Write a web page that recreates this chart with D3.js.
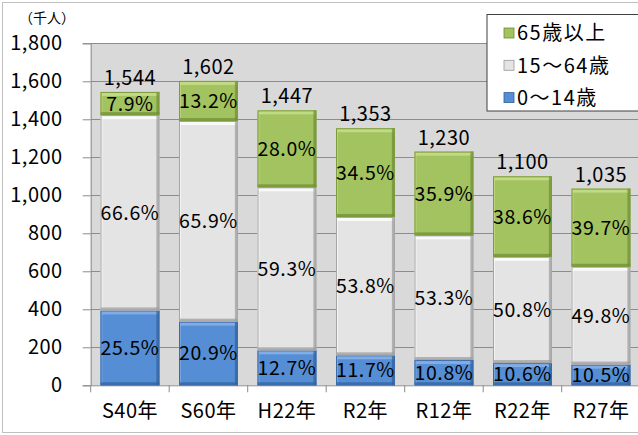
<!DOCTYPE html>
<html>
<head>
<meta charset="utf-8">
<script src="https://cdn.jsdelivr.net/npm/d3@7"></script>
<style>
    body { margin: 0; background: #fff; }
    svg { display: block; }
    text { font-family: "Noto Sans CJK JP", "Noto Sans", sans-serif; fill: #000; }
</style>
</head>
<body>
<svg id="chart"></svg>
<script>
// categories (years) and population by age group, thousands
const categories = ["S40年", "S60年", "H22年", "R2年", "R12年", "R22年", "R27年"];
const young = [394, 335, 184, 158, 133, 117, 109];       // 0～14歳
const working = [1028, 1056, 858, 728, 656, 559, 515];   // 15～64歳
const elderly = [122, 211, 405, 467, 441, 424, 411];     // 65歳以上
const totals = [1544, 1602, 1447, 1353, 1230, 1100, 1035];
const youngPct = ["25.5%", "20.9%", "12.7%", "11.7%", "10.8%", "10.6%", "10.5%"];
const workingPct = ["66.6%", "65.9%", "59.3%", "53.8%", "53.3%", "50.8%", "49.8%"];
const elderlyPct = ["7.9%", "13.2%", "28.0%", "34.5%", "35.9%", "38.6%", "39.7%"];
const yTicks = [0, 200, 400, 600, 800, 1000, 1200, 1400, 1600, 1800];

const width = 638;
const height = 435;

const series = [
    { key: "young", name: "0～14歳", values: young, pct: youngPct, fill: "#558ed5", light: "#8db4e8", dark: "#2f5f99", stroke: "#3a6aa8" },
    { key: "working", name: "15～64歳", values: working, pct: workingPct, fill: "#e4e4e4", light: "#ffffff", dark: "#9a9a9a", stroke: "#a6a6a6" },
    { key: "elderly", name: "65歳以上", values: elderly, pct: elderlyPct, fill: "#a2c35f", light: "#c9e08e", dark: "#6f8c34", stroke: "#7c9a3e" }
];

const svg = d3.select("#chart")
    .attr("width", width)
    .attr("height", height);

// outer chart border
svg.append("rect")
    .attr("x", 2.5)
    .attr("y", 2.5)
    .attr("width", width + 10)
    .attr("height", 430)
    .attr("fill", "#fff")
    .attr("stroke", "#bfbfbf");

const plot = { left: 90.7, right: 640.2, top: 43.3, bottom: 385.3 };

const x = d3.scaleBand()
    .domain(categories)
    .range([plot.left, plot.right])
    .paddingInner(0.25)
    .paddingOuter(0.125);

const y = d3.scaleLinear()
    .domain([0, 1800])
    .range([plot.bottom, plot.top]);

// plot background
svg.append("rect")
    .attr("x", plot.left)
    .attr("y", plot.top)
    .attr("width", plot.right - plot.left)
    .attr("height", plot.bottom - plot.top)
    .attr("fill", "#d9d9d9");

// y axis with gridlines
const yAxis = svg.append("g")
    .attr("transform", `translate(${plot.left},0)`)
    .call(d3.axisLeft(y)
        .tickValues(yTicks)
        .tickSize(8)
        .tickPadding(20)
        .tickFormat(d3.format(",")));

yAxis.select(".domain").attr("stroke", "#8c8c8c");
yAxis.selectAll(".tick line").attr("stroke", "#8c8c8c");
yAxis.selectAll(".tick text")
    .style("font-size", "20px")
    .style("letter-spacing", "0.5px")
    .attr("fill", "#000");

svg.append("g")
    .selectAll("line")
    .data(yTicks.filter(d => d > 0))
    .enter().append("line")
    .attr("x1", plot.left)
    .attr("x2", plot.right)
    .attr("y1", d => Math.round(y(d)) + 0.5)
    .attr("y2", d => Math.round(y(d)) + 0.5)
    .attr("stroke", "#8c8c8c");

// x axis
const xAxis = svg.append("g")
    .attr("transform", `translate(0,${plot.bottom})`)
    .call(d3.axisBottom(x).tickSize(0).tickPadding(19));

xAxis.select(".domain").attr("stroke", "#8c8c8c");
xAxis.selectAll(".tick text")
    .style("font-size", "20px")
    .style("letter-spacing", "0.5px")
    .attr("fill", "#000");

// category boundary ticks
svg.append("g")
    .selectAll("line")
    .data(categories)
    .enter().append("line")
    .attr("x1", d => x(d) - x.step() * x.paddingInner() / 2)
    .attr("x2", d => x(d) - x.step() * x.paddingInner() / 2)
    .attr("y1", plot.bottom)
    .attr("y2", plot.bottom + 7)
    .attr("stroke", "#8c8c8c");

// unit label
svg.append("text")
    .attr("x", 47)
    .attr("y", 23)
    .attr("text-anchor", "middle")
    .style("font-size", "14px")
    .text("（千人）");

// stacked bars
const stacked = categories.map((c, i) => {
    let base = 0;
    return series.map(s => {
        const seg = { cat: c, s: s, y0: base, y1: base + s.values[i], label: s.pct[i] };
        base += s.values[i];
        return seg;
    });
});

const bars = svg.append("g");
const bw = x.bandwidth();

stacked.forEach(segs => {
    segs.forEach(seg => {
        const g = bars.append("g");
        const bx = x(seg.cat);
        const top = y(seg.y1);
        const h = y(seg.y0) - y(seg.y1);

        g.append("rect")
            .attr("x", bx)
            .attr("y", top)
            .attr("width", bw)
            .attr("height", h)
            .attr("fill", seg.s.fill);

        // bevel: light top/left, dark bottom/right
        g.append("rect")
            .attr("x", bx).attr("y", top)
            .attr("width", bw).attr("height", 4)
            .attr("fill", seg.s.light).attr("opacity", 0.8);
        g.append("rect")
            .attr("x", bx).attr("y", top)
            .attr("width", 2).attr("height", h)
            .attr("fill", seg.s.light).attr("opacity", 0.6);
        g.append("rect")
            .attr("x", bx + bw - 3).attr("y", top)
            .attr("width", 3).attr("height", h)
            .attr("fill", seg.s.dark).attr("opacity", 0.7);
        g.append("rect")
            .attr("x", bx).attr("y", top + h - 3)
            .attr("width", bw).attr("height", 3)
            .attr("fill", seg.s.dark).attr("opacity", 0.7);

        g.append("rect")
            .attr("x", bx + 0.5)
            .attr("y", top + 0.5)
            .attr("width", bw - 1)
            .attr("height", h - 1)
            .attr("fill", "none")
            .attr("stroke", seg.s.stroke);

        g.append("text")
            .attr("x", bx + bw / 2)
            .attr("y", top + h / 2)
            .attr("dy", "0.36em")
            .attr("text-anchor", "middle")
            .style("font-size", "19.5px")
            .style("letter-spacing", "0.6px")
            .text(seg.label);
    });
});

// totals above bars
svg.append("g")
    .selectAll("text")
    .data(categories)
    .enter().append("text")
    .attr("x", d => x(d) + bw / 2)
    .attr("y", (d, i) => y(totals[i]) - 7)
    .attr("text-anchor", "middle")
    .style("font-size", "20px")
    .style("letter-spacing", "0.5px")
    .text((d, i) => d3.format(",")(totals[i]));

// legend
const legend = svg.append("g");

legend.append("rect")
    .attr("x", 487)
    .attr("y", 14.5)
    .attr("width", 160)
    .attr("height", 96.5)
    .attr("fill", "#fff")
    .attr("stroke", "#404040");

const legendItems = series.slice().reverse();

legendItems.forEach((s, i) => {
    const cy = 33 + i * 32.3;
    legend.append("rect")
        .attr("x", 504)
        .attr("y", cy - 5)
        .attr("width", 10)
        .attr("height", 10)
        .attr("fill", s.fill)
        .attr("stroke", s.dark)
        .attr("stroke-width", 0.8);
    legend.append("text")
        .attr("x", 517)
        .attr("y", cy)
        .attr("dy", "0.36em")
        .style("font-size", "20px")
        .style("letter-spacing", "1.5px")
        .text(s.name);
});
</script>
</body>
</html>
